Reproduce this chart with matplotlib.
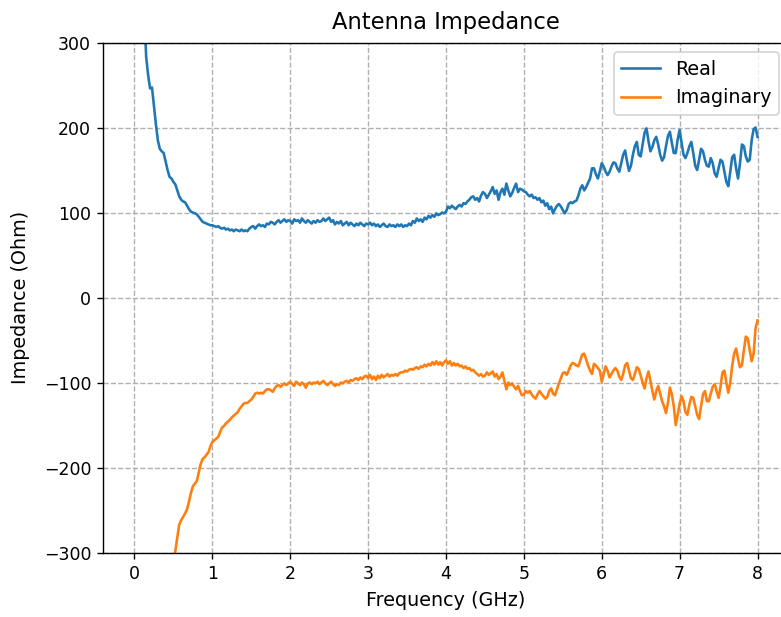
import numpy as np
import matplotlib
matplotlib.use("Agg")
import matplotlib.pyplot as plt

# sweep: 0 to 8 GHz in 25 MHz steps
freq_ghz = np.linspace(0, 8, 321)

z_real = [
    1500, 1100, 800, 600, 450, 340, 283, 262, 246, 247, 225, 204, 185, 175, 172, 170, 160, 150, 142, 140,
    136, 133, 126, 119, 115, 113, 112, 108, 104, 101, 100, 99, 98, 95, 92, 89, 88, 87, 86, 85,
    85, 84, 83, 84, 82, 81, 82, 80, 81, 79, 80, 78, 80, 79, 78, 80, 78, 79, 78, 81,
    83, 84, 81, 84, 86, 84, 85, 83, 87, 86, 89, 88, 86, 89, 91, 88, 90, 92, 89, 91,
    90, 87, 92, 90, 91, 88, 93, 90, 88, 91, 89, 87, 90, 88, 91, 89, 90, 93, 90, 92,
    94, 89, 91, 86, 89, 87, 90, 85, 87, 89, 85, 88, 86, 84, 87, 85, 88, 86, 84, 87,
    86, 88, 85, 87, 84, 86, 83, 85, 87, 84, 83, 86, 84, 85, 83, 86, 84, 86, 83, 85,
    84, 87, 85, 90, 88, 93, 90, 92, 89, 94, 92, 96, 94, 97, 95, 99, 97, 98, 100, 99,
    101, 107, 105, 108, 106, 104, 107, 109, 107, 111, 110, 113, 115, 118, 119, 115, 117, 113, 120, 124,
    122, 117, 121, 125, 130, 122, 126, 115, 124, 128, 121, 134, 126, 119, 123, 129, 134, 124, 128, 127,
    125, 124, 121, 119, 121, 117, 118, 115, 117, 112, 114, 108, 111, 104, 107, 99, 104, 108, 110, 107,
    103, 99, 103, 110, 112, 111, 113, 114, 120, 128, 132, 126, 130, 135, 140, 152, 152, 145, 140, 148,
    158, 154, 148, 144, 148, 154, 159, 158, 152, 148, 158, 168, 173, 160, 149, 155, 168, 178, 183, 168,
    166, 180, 194, 199, 184, 172, 177, 185, 189, 180, 168, 161, 165, 178, 190, 195, 182, 170, 170, 186,
    197, 182, 168, 164, 170, 178, 183, 170, 155, 150, 162, 175, 172, 162, 155, 154, 164, 158, 146, 142,
    152, 162, 160, 148, 136, 131, 148, 165, 168, 152, 140, 158, 180, 178, 166, 160, 162, 185, 198, 200,
    189,
]

z_imag = [
    -1700, -1500, -1330, -1180, -1050, -940, -850, -770, -700, -640, -590, -545, -505, -470, -440, -412, -388, -366, -346, -328,
    -312, -298, -282, -267, -262, -258, -254, -249, -240, -230, -222, -219, -216, -206, -196, -190, -188, -185, -182, -175,
    -170, -168, -166, -164, -158, -153, -151, -148, -146, -144, -141, -139, -137, -135, -131, -128, -125, -124, -124, -122,
    -120, -117, -113, -112, -113, -112, -113, -110, -108, -108, -109, -111, -107, -104, -103, -105, -103, -101, -103, -101,
    -99, -102, -104, -99, -101, -103, -100, -102, -106, -101, -100, -102, -100, -101, -99, -102, -100, -98, -101, -103,
    -101, -99, -102, -104, -102, -103, -100, -101, -99, -98, -100, -97, -98, -96, -95, -97, -94, -96, -93, -92,
    -95, -91, -96, -93, -97, -92, -95, -91, -94, -92, -90, -93, -91, -92, -90, -92, -89, -88, -88, -86,
    -87, -85, -84, -85, -83, -82, -84, -81, -82, -79, -81, -78, -80, -76, -79, -75, -79, -76, -80, -76,
    -74, -78, -75, -80, -77, -80, -78, -81, -80, -83, -81, -84, -83, -86, -85, -88, -90, -92, -90, -93,
    -92, -88, -91, -89, -87, -93, -90, -96, -93, -88, -98, -108, -100, -103, -101, -105, -108, -104, -110, -115,
    -114, -110, -112, -110, -114, -117, -119, -114, -110, -113, -116, -119, -117, -110, -107, -113, -115, -108, -101, -95,
    -89, -88, -91, -86, -80, -77, -78, -80, -81, -74, -67, -66, -73, -80, -86, -90, -78, -80, -83, -86,
    -99, -90, -81, -86, -94, -90, -86, -83, -86, -93, -97, -90, -80, -77, -86, -95, -97, -90, -82, -84,
    -92, -100, -107, -95, -87, -98, -110, -120, -110, -104, -113, -122, -128, -136, -124, -106, -114, -128, -150, -138,
    -125, -116, -122, -135, -138, -126, -117, -118, -128, -138, -143, -128, -114, -110, -122, -122, -113, -105, -102, -110,
    -118, -105, -88, -86, -100, -112, -100, -80, -66, -60, -72, -82, -80, -62, -46, -48, -62, -75, -66, -36,
    -27,
]

fig = plt.figure(figsize=(6.248, 4.936), dpi=125)
ax = fig.add_axes([0.1323, 0.1045, 0.8775, 0.8266])

ax.plot(freq_ghz, z_real, label='Real')
ax.plot(freq_ghz, z_imag, label='Imaginary')

ax.set_xlim(-0.4, 8.4)
ax.set_ylim(-300, 300)
ax.set_xticks(range(0, 9))
ax.set_yticks([-300, -200, -100, 0, 100, 200, 300])
ax.grid(linestyle='--')
ax.spines['right'].set_visible(False)

ax.set_title('Antenna Impedance', fontsize=13, pad=8)
ax.set_xlabel('Frequency (GHz)', fontsize=11, labelpad=5)
ax.set_ylabel('Impedance (Ohm)', fontsize=11, labelpad=8)
ax.legend(loc='upper right', fontsize=11)

fig.savefig('out.png', dpi=125)
